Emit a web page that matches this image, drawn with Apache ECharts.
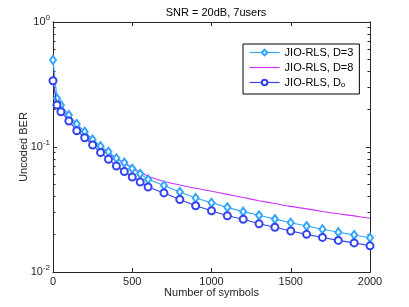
<!DOCTYPE html>
<html>
<head>
<meta charset="utf-8">
<script src="https://cdn.jsdelivr.net/npm/echarts@6/dist/echarts.min.js"></script>
<style>html,body{margin:0;padding:0;background:#fff}#c{width:409px;height:307px}</style>
</head>
<body>
<div id="c"></div>
<script>
// x positions (number of symbols) of the marked series
var symbolsMarked = [0,25,50,100,150,200,250,300,350,400,450,500,550,600,700,800,900,1000,1100,1200,1300,1400,1500,1600,1700,1800,1900,2000];
// JIO-RLS, D=3
var berD3 = [0.4966,0.2452,0.2168,0.1803,0.1528,0.1326,0.1148,0.1015,0.0917,0.0812,0.0749,0.0672,0.0610,0.0551,0.0492,0.0437,0.0391,0.0358,0.0329,0.0304,0.0284,0.0265,0.0248,0.0233,0.0220,0.0208,0.0198,0.0188];
// JIO-RLS, D=8 (line only)
var berD8 = [0.339,0.2355,0.2070,0.1722,0.1459,0.1271,0.1107,0.0982,0.0887,0.0809,0.0745,0.0688,0.0631,0.0583,0.0530,0.0497,0.0467,0.0442,0.0418,0.0394,0.0372,0.0353,0.0335,0.0320,0.0305,0.0292,0.0281,0.0269];
// JIO-RLS, D_o
var berDo = [0.3392,0.2168,0.1916,0.1614,0.1350,0.1187,0.1038,0.0904,0.0797,0.0705,0.0637,0.0575,0.0525,0.0479,0.0429,0.0380,0.0339,0.0309,0.0282,0.0264,0.0243,0.0228,0.0213,0.0200,0.0189,0.0179,0.0171,0.0162];
var seriesNames = ['JIO-RLS, D=3','JIO-RLS, D=8','JIO-RLS, Do'];
var xTicks = [0,500,1000,1500,2000];
var yMajor = [0.01,0.1,1];
var yMinor = [0.02,0.03,0.04,0.05,0.06,0.07,0.08,0.09,0.2,0.3,0.4,0.5,0.6,0.7,0.8,0.9];

function pairs(xs, ys){ return xs.map(function(x,i){ return [x, ys[i]]; }); }

var FONT = 'Liberation Sans, Arial, Helvetica, sans-serif';
var AX = '#262626';
var chart = echarts.init(document.getElementById('c'), null, {renderer:'canvas'});

function yAxisBase(pos, showLabel, ticks, len){
  return {
    type:'log', logBase:10, min:0.01, max:1, position:pos,
    axisLine:{show:true, lineStyle:{color:AX, width:1}},
    axisTick:{show:true, inside:true, length:len, lineStyle:{color:AX}, customValues:ticks},
    axisLabel:{show:showLabel, customValues: showLabel?ticks:undefined, margin:3, fontFamily:FONT, fontSize:11, color:'#262626',
      formatter:function(v){ var e=Math.round(Math.log10(v)); return '{b|10}{e|'+(e===0?'0':('-'+(-e)))+'}'; },
      rich:{b:{fontSize:11, fontFamily:FONT, color:'#262626'}, e:{fontSize:8, fontFamily:FONT, color:'#262626', padding:[0,0,9,0]}}},
    splitLine:{show:false}, minorTick:{show:false}, minorSplitLine:{show:false}
  };
}

var option = {
  animation:false,
  backgroundColor:'#fff',
  title:{text:'SNR = 20dB, 7users', left:211, top:2, textAlign:'center',
    textStyle:{fontFamily:FONT, fontSize:11, fontWeight:'normal', color:'#000'}},
  grid:{left:53, right:39, top:22, bottom:35, show:false},
  legend:{
    orient:'vertical', left:243, top:44,
    data:seriesNames,
    backgroundColor:'#fff', borderColor:'#000', borderWidth:1, borderRadius:0,
    padding:[3,6,5,6], itemGap:4, itemWidth:30, itemHeight:7,
    lineStyle:{width:1.2},
    textStyle:{fontFamily:FONT, fontSize:11, color:'#000',
      rich:{sub:{fontSize:8, fontFamily:FONT, color:'#000', padding:[5,0,0,0]}}},
    formatter:function(n){ return n==='JIO-RLS, Do' ? 'JIO-RLS, D{sub|o}' : n; }
  },
  xAxis:[
    {type:'value', min:0, max:2000, interval:500, position:'bottom',
     name:'Number of symbols', nameLocation:'middle', nameGap:15, nameMoveOverlap:false,
     nameTextStyle:{fontFamily:FONT, fontSize:11, color:'#262626'},
     axisLine:{show:true, onZero:false, lineStyle:{color:AX}},
     axisTick:{show:true, inside:true, length:4, lineStyle:{color:AX}},
     axisLabel:{margin:4, fontFamily:FONT, fontSize:11, color:'#262626', formatter:function(v){ return String(v); }},
     splitLine:{show:false}},
    {type:'value', min:0, max:2000, interval:500, position:'top',
     axisLine:{show:true, onZero:false, lineStyle:{color:AX}},
     axisTick:{show:true, inside:true, length:4, lineStyle:{color:AX}},
     axisLabel:{show:false}, splitLine:{show:false}}
  ],
  yAxis:[
    Object.assign(yAxisBase('left', true, yMajor, 4), {name:'Uncoded BER', nameLocation:'middle', nameGap:24, nameRotate:90, nameMoveOverlap:false,
      nameTextStyle:{fontFamily:FONT, fontSize:11, color:'#262626'}}),
    yAxisBase('left', false, yMinor, 2.5),
    yAxisBase('right', false, yMajor, 4),
    yAxisBase('right', false, yMinor, 2.5)
  ],
  series:[
    {name:seriesNames[0], type:'line', xAxisIndex:0, yAxisIndex:0, data:pairs(symbolsMarked, berD3),
     symbol:'emptyDiamond', symbolSize:[6,8], lineStyle:{color:'#33a6ff', width:1.1}, itemStyle:{color:'#33a6ff', borderWidth:1.2}, z:3},
    {name:seriesNames[1], type:'line', xAxisIndex:0, yAxisIndex:0, data:pairs(symbolsMarked, berD8),
     symbol:'none', smooth:0.3, lineStyle:{color:'#cc33ff', width:1.1}, itemStyle:{color:'#cc33ff', opacity:0}, z:2},
    {name:seriesNames[2], type:'line', xAxisIndex:0, yAxisIndex:0, data:pairs(symbolsMarked, berDo),
     symbol:'emptyCircle', symbolSize:7, lineStyle:{color:'#3344ee', width:1.1}, itemStyle:{color:'#3344ee', borderWidth:1.2}, z:4}
  ]
};
chart.setOption(option);
</script>
</body>
</html>
